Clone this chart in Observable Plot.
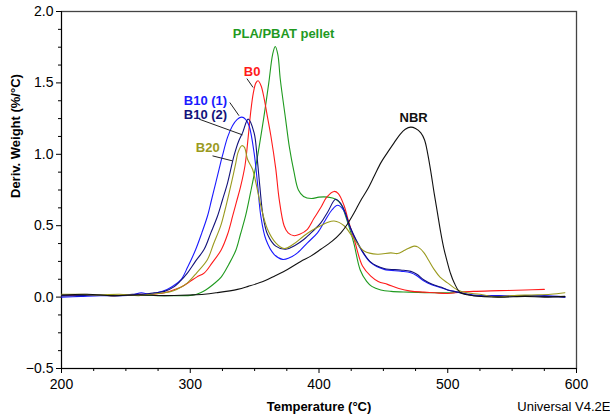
<!DOCTYPE html>
<html>
<head>
<meta charset="utf-8">
<script src="https://cdn.jsdelivr.net/npm/d3@7"></script>
<script src="https://cdn.jsdelivr.net/npm/@observablehq/plot@0.6"></script>
<style>
  html, body { margin: 0; padding: 0; background: #fff; }
  #chart svg { display: block; }
</style>
</head>
<body>
<div id="chart"></div>
<script>
// ---- Data ----
const seriesNames = ["PLA/PBAT pellet", "B0", "B10 (1)", "B10 (2)", "B20", "NBR"];
const seriesColors = ["#1f9a1f", "#ff1a1a", "#1a1aff", "#12127a", "#9a9a1e", "#111111"];

const greenT = [200,220,240,260,280,295,300,305,308,312,318,324,330,335.5,339,343,347,351,354,357,361,364,366,368,370,374,377,380.5,384,388,394,400,407,413,417,422,427,432,437,441,448,456,470,490,505];
const greenV = [0.01,0.015,0.01,0.015,0.01,0.01,0.012,0.02,0.03,0.05,0.09,0.14,0.23,0.33,0.44,0.57,0.74,0.92,1.08,1.25,1.50,1.70,1.755,1.70,1.52,1.25,1.05,0.88,0.75,0.705,0.69,0.70,0.70,0.685,0.65,0.53,0.38,0.19,0.11,0.075,0.05,0.04,0.035,0.03,0.03];

const redT = [200,220,240,260,270,280,287,293,300,305,311,317,324,329,333,336,339,342.5,345,347,349,351,352.7,355,357.4,360,362.6,366.4,369,372.9,376,380.7,385,391,396,401.4,406,411.7,415,419.5,423,427.3,433.8,440.2,446,453.2,462,471.3,481.6,490,500,510,520,540,560,575];
const redV = [0.01,0.015,0.01,0.02,0.02,0.03,0.05,0.07,0.11,0.14,0.17,0.24,0.33,0.44,0.57,0.67,0.77,0.92,1.12,1.30,1.43,1.50,1.515,1.48,1.39,1.26,1.13,0.90,0.69,0.50,0.45,0.43,0.44,0.475,0.55,0.627,0.70,0.74,0.725,0.64,0.53,0.405,0.217,0.147,0.11,0.089,0.06,0.042,0.035,0.03,0.025,0.035,0.04,0.045,0.05,0.054];

const blueT = [200,215,230,245,255,262,268,274,282,287,292.7,298,304.3,309,313.4,316.5,319.8,322.5,325,329,332.8,336.5,340,343,345.7,349.6,352.2,354.8,358.7,365.1,371.6,377,383.3,391,398.8,405,410,414.4,419,424.7,432.5,440.2,450.6,463.5,471.3,476,481.6,488,494.6,500,507.6,520,540,560,575,591];
const blueV = [0.0,0.005,0.01,0.01,0.015,0.03,0.02,0.03,0.054,0.08,0.12,0.21,0.335,0.45,0.568,0.68,0.80,0.90,0.99,1.12,1.20,1.245,1.26,1.245,1.20,1.01,0.80,0.568,0.405,0.30,0.264,0.275,0.31,0.38,0.45,0.54,0.61,0.643,0.61,0.475,0.335,0.241,0.194,0.182,0.171,0.15,0.112,0.085,0.066,0.05,0.035,0.015,0.01,0.005,0.01,0.0];

const navyT = [200,215,230,245,255,265,272,280,287,292,297.9,304,310.8,316,321.2,325,329,334,337.5,340.6,345,349.6,352,354,356.5,360,366.4,374.2,381,388.4,395,401.4,407,413,418,424.7,432.5,440.2,450.6,463.5,471.3,476,481.6,488,494.6,500,507.6,520,540,560,575,591];
const navyV = [0.01,0.01,0.015,0.01,0.02,0.02,0.03,0.04,0.07,0.11,0.17,0.25,0.335,0.45,0.568,0.68,0.80,0.99,1.09,1.15,1.246,1.15,0.97,0.78,0.57,0.44,0.357,0.335,0.36,0.405,0.46,0.52,0.60,0.685,0.64,0.48,0.34,0.245,0.20,0.19,0.18,0.16,0.12,0.09,0.07,0.05,0.035,0.01,0.005,0.01,0.005,0.0];

const oliveT = [200,215,230,245,260,270,280,287,292,297.9,305,313.4,318,323.7,327,330.2,333,335.4,337,340,342,344.5,348.4,351,354.8,360,366.4,372.9,380,388.4,395,401.4,406,411.7,419.5,427.3,435,445.4,455.8,461,467,473.9,477,481.6,485,489.4,494,499.8,507.6,515,525,538.6,550,565,580,591];
const oliveV = [0.02,0.02,0.015,0.02,0.01,0.02,0.03,0.045,0.065,0.10,0.17,0.264,0.37,0.50,0.61,0.73,0.84,0.94,1.01,1.06,1.05,0.965,0.895,0.80,0.64,0.475,0.38,0.34,0.37,0.43,0.47,0.50,0.52,0.533,0.50,0.405,0.323,0.30,0.31,0.305,0.33,0.357,0.35,0.31,0.26,0.194,0.14,0.10,0.05,0.03,0.02,0.0,0.01,0.015,0.02,0.03];

const blackT = [200,220,240,260,280,300,310.8,320,336.7,345,357.4,366,375.5,385.8,393.6,401.4,410,417,422,427.3,432,437.7,443,448,453,458.3,463,467,471.3,475,479.1,482,484.3,487,489.4,492,494.6,497,499.8,502,505,510,520,540,560,575,591];
const blackV = [0.015,0.02,0.01,0.015,0.01,0.015,0.02,0.03,0.054,0.075,0.112,0.15,0.194,0.25,0.287,0.335,0.39,0.45,0.51,0.59,0.67,0.755,0.85,0.94,1.01,1.08,1.14,1.175,1.19,1.18,1.15,1.10,1.01,0.87,0.73,0.59,0.45,0.34,0.24,0.17,0.10,0.03,0.01,0.0,0.005,0.0,0.005];

// Curve labels and leader lines (data coordinates)
const labelText = ["PLA/PBAT pellet", "B0", "B10 (1)", "B10 (2)", "B20", "NBR"];
const labelT = [372.5, 348, 311.8, 311.8, 313.6, 473.5];
const labelV = [1.844, 1.579, 1.372, 1.273, 1.045, 1.255];
const labelColors = ["#1f9a1f", "#ff1a1a", "#1a1aff", "#12127a", "#9a9a1e", "#111111"];
const leaderT1 = [344, 330.7, 306.9, 317.3];
const leaderV1 = [1.53, 1.363, 1.246, 0.989];
const leaderT2 = [348.8, 337.9, 340.6, 332.8];
const leaderV2 = [1.468, 1.27, 1.136, 0.954];

// Axis ticks
const xMajor = [200, 300, 400, 500, 600];
const xMinor = d3.range(200, 601, 25).filter(d => d % 100 !== 0);
const yMajor = [-0.5, 0.0, 0.5, 1.0, 1.5, 2.0];
const yMinor = d3.range(-0.5, 2.0001, 0.125).filter(d => Math.abs(d * 2 - Math.round(d * 2)) > 1e-6);

// ---- Build tables ----
const allT = [greenT, redT, blueT, navyT, oliveT, blackT];
const allV = [greenV, redV, blueV, navyV, oliveV, blackV];
const rows = [];
seriesNames.forEach((name, i) => {
  allT[i].forEach((t, j) => rows.push({series: name, T: t, v: allV[i][j]}));
});
const labels = labelText.map((t, i) => ({text: t, T: labelT[i], v: labelV[i], color: labelColors[i]}));
const leaders = leaderT1.map((t, i) => ({x1: t, y1: leaderV1[i], x2: leaderT2[i], y2: leaderV2[i]}));

const font = "'Liberation Sans', Arial, sans-serif";

const chart = Plot.plot({
  width: 610,
  height: 415,
  marginLeft: 61,
  marginRight: 34,
  marginTop: 11,
  marginBottom: 47,
  style: {fontFamily: font, background: "#fff", color: "#000"},
  x: {domain: [200, 600]},
  y: {domain: [-0.5, 2.0]},
  color: {domain: seriesNames, range: seriesColors},
  marks: [
    Plot.frame({stroke: "#444", strokeWidth: 1.3}),
    Plot.axisX({ticks: xMajor, tickSize: 5, tickPadding: 6, fontSize: 14, label: null, tickFormat: d => String(d)}),
    Plot.axisX({ticks: xMinor, tickSize: 3, tickFormat: () => "", label: null}),
    Plot.axisY({ticks: yMajor, tickSize: 5, tickPadding: 3, fontSize: 14, label: null, tickFormat: d3.format(".1f")}),
    Plot.axisY({ticks: yMinor, tickSize: 3, tickFormat: () => "", label: null}),
    Plot.ruleX([200], {stroke: "#000"}),
    Plot.ruleY([-0.5], {stroke: "#000"}),
    Plot.line(rows, {x: "T", y: "v", z: "series", stroke: "series", strokeWidth: 1.1, curve: "catmull-rom"}),
    Plot.link(leaders, {x1: "x1", y1: "y1", x2: "x2", y2: "y2", stroke: "#222", strokeWidth: 1}),
    Plot.text(labels, {x: "T", y: "v", text: "text", fill: "color", fontSize: 13, fontWeight: "bold", textAnchor: "middle", lineAnchor: "middle"}),
    Plot.text(["Temperature (°C)"], {frameAnchor: "bottom", dy: 38, fontSize: 13, fontWeight: "bold", lineAnchor: "middle"}),
    Plot.text(["Deriv. Weight (%/°C)"], {frameAnchor: "left", dx: -46, dy: 8, rotate: -90, fontSize: 13, fontWeight: "bold", lineAnchor: "middle"}),
    Plot.text(["Universal V4.2E"], {frameAnchor: "bottom-right", dx: 34, dy: 38, textAnchor: "end", fontSize: 13, lineAnchor: "middle"})
  ]
});
document.getElementById("chart").appendChild(chart);
</script>
</body>
</html>
